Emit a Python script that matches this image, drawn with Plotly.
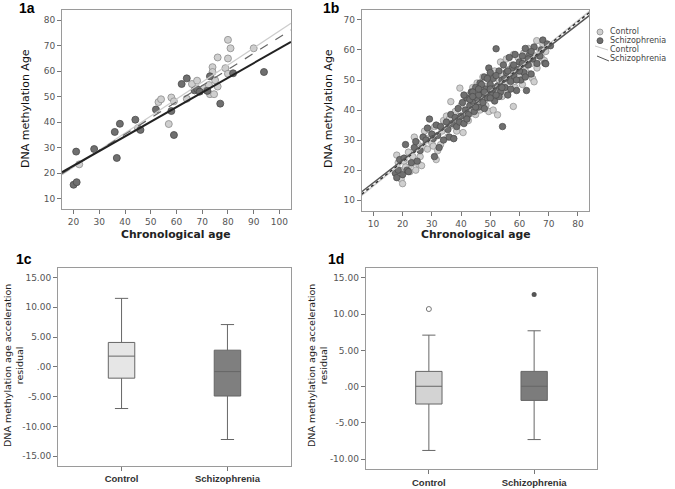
import plotly.graph_objects as go

W, H = 675, 489

# ---------------- data: panel 1a ----------------
a_ctrl_age = [22.2, 45, 53, 54, 57, 58, 59, 64, 66, 68, 70.7, 71.8, 72.6, 73, 74, 74, 74.6, 75, 76, 76, 79, 80, 80, 81, 80, 90]
a_ctrl_dna = [23.5, 37.7, 47.9, 49, 39.3, 49.7, 48.2, 49.2, 55, 56.3, 53.3, 52.5, 54.6, 51, 61.6, 59.7, 51, 56.5, 65.4, 54, 61.2, 72.3, 65, 69, 59, 69]
a_scz_age = [20, 21.2, 21, 28, 36, 36.8, 38, 44, 46, 52, 58, 59, 62, 64, 67, 68, 69, 73, 77, 82, 94, 72]
a_scz_dna = [15.5, 16.5, 28.5, 29.5, 36.2, 26, 39.4, 41, 37, 45, 44.4, 35, 55, 57.2, 52.5, 53, 52, 58, 47.3, 59.2, 59.7, 52.3]
a_fit_x = [15.5, 104.5]
a_fit_ctrl = [19.4, 78.8]
a_fit_all = [19.8, 76.2]
a_fit_scz = [20.4, 71.5]

# ---------------- data: panel 1b ----------------
b_ctrl_age = [18, 18.5, 19, 19.5, 20, 20.5, 21, 22, 22.5, 23, 23.5, 24, 24.5, 25, 25.5, 26, 26.5, 27, 27.5, 28,
              28.5, 29, 30, 30.5, 31, 31.5, 32, 33, 33.5, 34, 35, 35.5, 36, 36.5, 37, 37.5, 38, 38.5, 39, 39.6,
              40, 40.7, 41, 41.5, 42, 42.5, 43, 43.5, 44, 44.5, 45, 45.5, 46, 46.5, 47, 47.5, 48, 48.5, 49, 49.5,
              50, 50.5, 51, 51.5, 52, 52.5, 53, 53.5, 54, 54.5, 55, 55.5, 56, 56.5, 57, 57.5, 57.9, 58, 58.5, 59,
              59.5, 60, 60.5, 61, 61.5, 62, 62.5, 63, 63.5, 64, 64.5, 65, 65.5, 65.9, 66, 67, 67.5, 68, 68.5, 69, 70]
b_ctrl_dna = [25, 22.5, 20, 17, 15.5, 23, 21, 26, 19.5, 22, 24.5, 31, 20, 29, 22, 24.5, 21.5, 28, 33, 30.5,
              27, 33.5, 29, 28, 34.5, 23.5, 26.5, 28.5, 33, 36.5, 38, 31, 37, 42.8, 35, 30.5, 39.5, 33, 36, 47.3,
              41.5, 32.5, 38, 44.5, 40, 36.5, 45, 39, 47.5, 42, 38.5, 49, 43.5, 40, 46.5, 51, 44, 41.5, 48, 39.5,
              51.5, 45, 40, 53, 47.5, 38.4, 50, 56, 44.5, 52, 48.5, 57, 46, 53.5, 50, 55, 41.2, 58.5, 47.5, 53,
              57.5, 51, 55.5, 48.5, 59, 53, 57, 60.5, 52, 55.5, 50.5, 49.4, 58, 63.1, 54, 60, 57.5, 62, 56.5, 59.5, 61.5]
b_scz_age = [17.5, 18, 18.5, 19, 20, 20.5, 21, 21.5, 22, 23, 24, 24.5, 25, 26, 27, 28, 28.5, 29.2, 30, 30.5,
             30.9, 31.5, 32, 32.5, 33, 34, 35, 35.5, 36, 36.5, 37, 37.5, 38, 38.5, 39, 39.5, 40, 40.5, 41, 41.5,
             42, 42.5, 43, 43.5, 44, 44.5, 45, 45.5, 46, 46.5, 47, 47.5, 48, 48.5, 49, 49.5, 50, 50.5, 51, 51.5,
             52, 52.5, 53, 53.5, 54, 54.2, 54.5, 55, 55.5, 56, 56.5, 57, 57.5, 58, 58.5, 59, 59.5, 60, 60.5, 61,
             61.5, 62, 62.4, 63, 63.5, 64, 64.5, 65, 66, 67, 67.5, 68, 68.7, 69, 69.5, 70.6,
             41, 42, 43, 44, 45, 46, 47, 48, 49, 50, 50, 51, 52, 53, 54, 55, 56, 57, 58, 59, 60, 61, 62, 63, 64,
             44, 46, 48, 50, 52]
b_scz_dna = [19, 17.5, 20, 23.5, 18.5, 24, 28.5, 20, 19.5, 22.5, 27.5, 29.5, 23, 26.5, 31, 30, 34, 37, 32, 30.5,
             24.5, 35, 31.5, 27.5, 34.5, 30, 36, 33.5, 31, 38.5, 35.5, 30.5, 37.5, 34.5, 40.5, 36, 38, 42.5, 35.5, 40,
             44, 38.5, 41.5, 46, 43, 39.5, 47.5, 44, 41, 49, 45.5, 42.5, 51, 47, 44, 54, 48.5, 45.5, 50.5, 43,
             60.4, 48, 53, 46, 50, 34.5, 55, 47.5, 52.5, 45, 57.5, 49.5, 54, 51.5, 58.5, 46.5, 53.5, 56, 50, 58,
             52.5, 60.5, 46.5, 55, 58.5, 52, 57, 61, 55.5, 58, 60, 63.3, 55.6, 55.4, 62, 61.4,
             45, 37, 43.5, 46, 41, 45, 48.5, 40.5, 50.5, 44, 52.5, 47, 51.5, 44.5, 47.5, 50.5, 53, 47, 55, 50, 53, 55.5, 51, 57, 59.5,
             44.5, 47, 46, 47, 45]
b_fit_x = [6, 84]
b_fit_ctrl = [11.6, 72.9]
b_fit_all = [12.0, 72.5]
b_fit_scz = [12.8, 71.5]

# ---------------- data: panels 1c / 1d (box statistics) ----------------
groups = ["Control", "Schizophrenia"]
c_q1 = [-1.9, -4.9]
c_med = [1.8, -0.8]
c_q3 = [4.1, 2.8]
c_lo = [-7.0, -12.2]
c_hi = [11.5, 7.1]
d_q1 = [-2.4, -1.9]
d_med = [0.05, 0.05]
d_q3 = [2.1, 2.1]
d_lo = [-8.8, -7.3]
d_hi = [7.1, 7.7]
d_out = [10.7, 12.7]

c_ticks = [15, 10, 5, 0, -5, -10, -15]
c_ticktext = ["15.00", "10.00", "5.00", ".00", "-5.00", "-10.00", "-15.00"]
d_ticks = [15, 10, 5, 0, -5, -10]
d_ticktext = ["15.00", "10.00", "5.00", ".00", "-5.00", "-10.00"]

CTRL_FILL = "#cfcfcf"
CTRL_EDGE = "#8c8c8c"
SCZ_FILL = "#6f6f6f"
SCZ_EDGE = "#4a4a4a"
FONT = "DejaVu Sans"
BOLDFONT = "Liberation Sans"

fig = go.Figure()

def px_x(p):
    return p / W

def px_y(p):
    return 1 - p / H

# panel a
fig.add_trace(go.Scatter(x=a_ctrl_age, y=a_ctrl_dna, mode="markers", xaxis="x", yaxis="y",
                         marker=dict(size=7, color=CTRL_FILL, line=dict(color=CTRL_EDGE, width=0.8)), showlegend=False))
fig.add_trace(go.Scatter(x=a_scz_age, y=a_scz_dna, mode="markers", xaxis="x", yaxis="y",
                         marker=dict(size=7, color=SCZ_FILL, line=dict(color=SCZ_EDGE, width=0.8)), showlegend=False))
fig.add_trace(go.Scatter(x=a_fit_x, y=a_fit_ctrl, mode="lines", xaxis="x", yaxis="y",
                         line=dict(color="#cccccc", width=1.3), showlegend=False))
fig.add_trace(go.Scatter(x=a_fit_x, y=a_fit_all, mode="lines", xaxis="x", yaxis="y",
                         line=dict(color="#666666", width=1.2, dash="dash"), showlegend=False))
fig.add_trace(go.Scatter(x=a_fit_x, y=a_fit_scz, mode="lines", xaxis="x", yaxis="y",
                         line=dict(color="#222222", width=2), showlegend=False))

# panel b
fig.add_trace(go.Scatter(x=b_ctrl_age, y=b_ctrl_dna, mode="markers", xaxis="x2", yaxis="y2",
                         marker=dict(size=6.5, color=CTRL_FILL, line=dict(color=CTRL_EDGE, width=0.7)), showlegend=False))
fig.add_trace(go.Scatter(x=b_scz_age, y=b_scz_dna, mode="markers", xaxis="x2", yaxis="y2",
                         marker=dict(size=6.5, color=SCZ_FILL, line=dict(color=SCZ_EDGE, width=0.7)), showlegend=False))
fig.add_trace(go.Scatter(x=b_fit_x, y=b_fit_ctrl, mode="lines", xaxis="x2", yaxis="y2",
                         line=dict(color="#cfcfcf", width=1.5), showlegend=False))
fig.add_trace(go.Scatter(x=b_fit_x, y=b_fit_all, mode="lines", xaxis="x2", yaxis="y2",
                         line=dict(color="#333333", width=1.5, dash="dot"), showlegend=False))
fig.add_trace(go.Scatter(x=b_fit_x, y=b_fit_scz, mode="lines", xaxis="x2", yaxis="y2",
                         line=dict(color="#555555", width=1.5), showlegend=False))

# panel c boxes
c_fills = ["#e6e6e6", "#7f7f7f"]
for i, g in enumerate(groups):
    fig.add_trace(go.Box(x=[g], q1=[c_q1[i]], median=[c_med[i]], q3=[c_q3[i]],
                         lowerfence=[c_lo[i]], upperfence=[c_hi[i]], xaxis="x3", yaxis="y3",
                         width=0.25, whiskerwidth=0.5, fillcolor=c_fills[i],
                         line=dict(color="#666666", width=1), boxpoints=False, showlegend=False))

# panel d boxes
d_fills = ["#d3d3d3", "#7c7c7c"]
for i, g in enumerate(groups):
    fig.add_trace(go.Box(x=[g], q1=[d_q1[i]], median=[d_med[i]], q3=[d_q3[i]],
                         lowerfence=[d_lo[i]], upperfence=[d_hi[i]], xaxis="x4", yaxis="y4",
                         width=0.25, whiskerwidth=0.5, fillcolor=d_fills[i],
                         line=dict(color="#666666", width=1), boxpoints=False, showlegend=False))
fig.add_trace(go.Scatter(x=[groups[0]], y=[d_out[0]], mode="markers", xaxis="x4", yaxis="y4",
                         marker=dict(size=5, symbol="circle-open", color="#777777", line=dict(width=1)), showlegend=False))
fig.add_trace(go.Scatter(x=[groups[1]], y=[d_out[1]], mode="markers", xaxis="x4", yaxis="y4",
                         marker=dict(size=5, color="#555555"), showlegend=False))

common = dict(showgrid=False, zeroline=False, showline=True, mirror=True, linecolor="#9a9a9a", linewidth=1,
              ticks="outside", ticklen=4, tickcolor="#777777", tickfont=dict(family=FONT, size=9, color="#555555"),
              automargin=False)
cat_common = {k: v for k, v in common.items() if k != "tickfont"}
cat_font = dict(family=BOLDFONT, size=9.5, color="#333333", weight="bold")

fig.update_layout(
    width=W, height=H, autosize=False, margin=dict(l=0, r=0, t=0, b=0),
    paper_bgcolor="white", plot_bgcolor="white", showlegend=False,
    xaxis=dict(domain=[px_x(62), px_x(291)], range=[15.5, 104.5], tickvals=[20, 30, 40, 50, 60, 70, 80, 90, 100], anchor="y", **common),
    yaxis=dict(domain=[px_y(209), px_y(10)], range=[6, 84], tickvals=[10, 20, 30, 40, 50, 60, 70, 80], anchor="x", **common),
    xaxis2=dict(domain=[px_x(361.7), px_x(589.3)], range=[6, 83.9], tickvals=[10, 20, 30, 40, 50, 60, 70, 80], anchor="y2", **common),
    yaxis2=dict(domain=[px_y(210.7), px_y(10)], range=[6.5, 73.3], tickvals=[10, 20, 30, 40, 50, 60, 70], anchor="x2", **common),
    xaxis3=dict(domain=[px_x(58), px_x(291)], range=[-0.6, 1.6], anchor="y3", type="category", tickfont=cat_font, **cat_common),
    yaxis3=dict(domain=[px_y(465.7), px_y(268)], range=[-16.6, 16.6], tickvals=c_ticks, ticktext=c_ticktext, anchor="x3", **common),
    xaxis4=dict(domain=[px_x(365.7), px_x(597.3)], range=[-0.6, 1.6], anchor="y4", type="category", tickfont=cat_font, **cat_common),
    yaxis4=dict(domain=[px_y(469.3), px_y(267.7)], range=[-11.4, 16.4], tickvals=d_ticks, ticktext=d_ticktext, anchor="x4", **common),
)

def ann(text, x, y, size, bold=False, angle=0, color="#222222", xanchor="center", family=FONT):
    fig.add_annotation(text=text, x=px_x(x), y=px_y(y), xref="paper", yref="paper", showarrow=False,
                       textangle=angle, xanchor=xanchor, yanchor="middle",
                       font=dict(family=family, size=size, color=color, weight="bold" if bold else "normal"))

# panel labels
ann("1a", 27, 8, 14, bold=True, color="#000000", family=BOLDFONT)
ann("1b", 331, 8, 14, bold=True, color="#000000", family=BOLDFONT)
ann("1c", 24, 259, 14, bold=True, color="#000000", family=BOLDFONT)
ann("1d", 336, 259, 14, bold=True, color="#000000", family=BOLDFONT)
# axis titles
ann("Chronological age", 176, 235, 10.8, bold=True)
ann("Chronological age", 476, 235, 10.8, bold=True)
ann("DNA methylation Age", 25, 109, 11, angle=-90, color="#111111")
ann("DNA methylation Age", 328, 109, 11, angle=-90, color="#111111")
ann("DNA methylation age acceleration<br>residual", 13, 366, 9.5, angle=-90)
ann("DNA methylation age acceleration<br>residual", 317, 366, 9.5, angle=-90)

# legend (panel 1b)
ann("Control", 608, 32, 8, color="#444444", xanchor="left")
ann("Schizophrenia", 608, 40.7, 8, color="#444444", xanchor="left")
ann("Control", 608, 49.4, 8, color="#444444", xanchor="left")
ann("Schizophrenia", 608, 58.1, 8, color="#444444", xanchor="left")
r = 3
fig.add_shape(type="circle", xref="paper", yref="paper", x0=px_x(600 - r), x1=px_x(600 + r), y0=px_y(32 + r), y1=px_y(32 - r),
              fillcolor=CTRL_FILL, line=dict(color=CTRL_EDGE, width=0.8))
fig.add_shape(type="circle", xref="paper", yref="paper", x0=px_x(600 - r), x1=px_x(600 + r), y0=px_y(40.7 + r), y1=px_y(40.7 - r),
              fillcolor=SCZ_FILL, line=dict(color=SCZ_EDGE, width=0.8))
fig.add_shape(type="line", xref="paper", yref="paper", x0=px_x(595), x1=px_x(608), y0=px_y(46), y1=px_y(50),
              line=dict(color="#cccccc", width=1))
fig.add_shape(type="line", xref="paper", yref="paper", x0=px_x(597), x1=px_x(609), y0=px_y(56), y1=px_y(61),
              line=dict(color="#555555", width=1))

fig.write_html("out.html", config={"displayModeBar": False},
               post_script="document.body.style.margin='0px';document.body.style.overflow='hidden';")
